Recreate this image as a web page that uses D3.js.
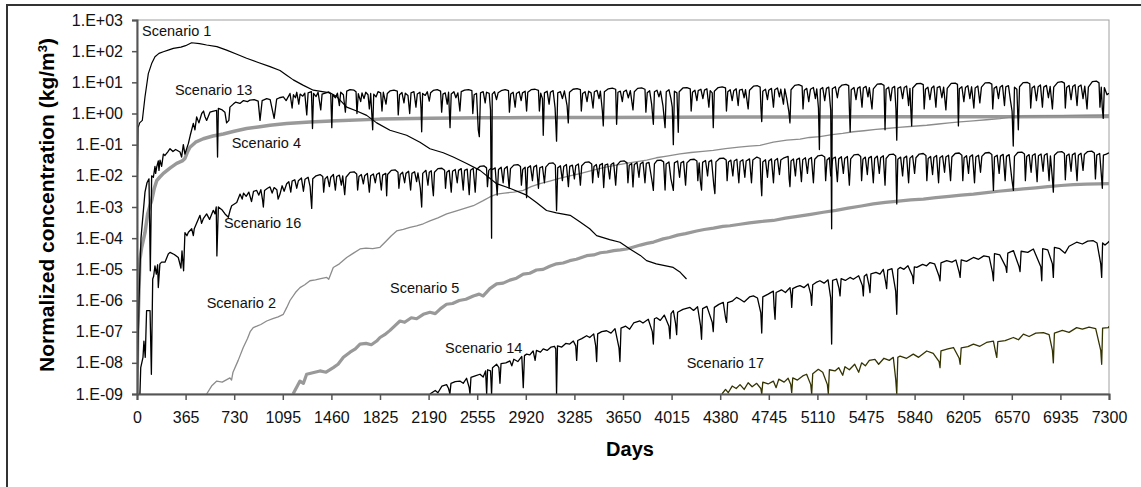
<!DOCTYPE html>
<html>
<head>
<meta charset="utf-8">
<script src="https://cdn.jsdelivr.net/npm/d3@7"></script>
<style>
  body { margin: 0; background: #fff; }
  svg { display: block; font-family: "Liberation Sans", Arial, sans-serif; }
  .tick text { fill: #111; }
</style>
</head>
<body>
<svg id="chart" width="1141" height="487"></svg>
<script>
// x ticks every year (days)
var xTicks = d3.range(0, 7301, 365);
// y ticks, one per decade
var yTicks = [1e-9, 1e-8, 1e-7, 1e-6, 1e-5, 1e-4, 1e-3, 1e-2, 1e-1, 1e0, 1e1, 1e2, 1e3];

// [day, concentration]
var scen1 = [[0,1.5e-4],[3,7e-3],[8,0.35],[20,0.5],[40,0.6],[60,3.4],[85,19],[110,40],[135,66],[165,85],
  [198,96],[240,110],[273,123],[330,135],[365,150],[410,186],[470,175],[523,158],[600,140],[673,108],
  [750,80],[823,59],[900,45],[999,32],[1074,24],[1124,17],[1174,12],[1250,8],[1324,5.6],[1449,4.6],
  [1500,3.5],[1575,1.6],[1650,1.2],[1725,0.87],[1800,0.5],[1900,0.29],[2025,0.2],[2125,0.12],[2200,0.074],
  [2300,0.055],[2375,0.04],[2476,0.025],[2576,0.015],[2701,0.0056],[2800,0.004],[2926,0.0024],[3000,0.0014],
  [3076,7.7e-4],[3150,6.5e-4],[3253,5.4e-4],[3328,3.3e-4],[3400,2e-4],[3452,1.2e-4],[3550,9e-5],[3627,7.4e-5],
  [3702,4.5e-5],[3780,2.8e-5],[3827,1.9e-5],[3900,1.5e-5],[4027,1.15e-5],[4080,8e-6],[4127,4.9e-6]];

var scen4 = [[0,1e-9],[5,1e-7],[10,3.6e-7],[22,2.1e-5],[35,5e-5],[60,1.5e-4],[80,6e-4],[100,1.2e-3],
  [110,1.6e-3],[130,4e-3],[148,7e-3],[170,9e-3],[198,0.012],[250,0.018],[298,0.025],[340,0.03],[360,0.036],
  [380,0.06],[398,0.083],[440,0.12],[498,0.155],[570,0.19],[648,0.22],[730,0.27],[823,0.33],[910,0.37],
  [999,0.42],[1124,0.48],[1300,0.53],[1500,0.58],[1825,0.66],[2200,0.7],[2600,0.73],[3000,0.74],[3500,0.75],
  [4000,0.76],[4500,0.77],[5000,0.77],[5500,0.78],[6000,0.78],[6500,0.79],[7000,0.8],[7300,0.8]];

var scen2 = [[523,1e-9],[560,1.8e-9],[599,2.6e-9],[640,2.4e-9],[698,3.3e-9],[710,2.8e-9],[721,5e-9],[760,1.2e-8],
  [798,3.1e-8],[830,6e-8],[850,1.0e-7],[873,1.35e-7],[900,1.5e-7],[930,1.7e-7],[974,2.2e-7],[1020,2.6e-7],
  [1060,3.0e-7],[1099,3.6e-7],[1125,6e-7],[1149,1e-6],[1190,1.8e-6],[1224,2.6e-6],[1260,3.2e-6],[1299,4.3e-6],
  [1340,4.6e-6],[1380,5e-6],[1425,5.5e-6],[1440,4.8e-6],[1474,1.15e-5],[1520,1.5e-5],[1575,2.4e-5],[1620,3.2e-5],
  [1675,4.5e-5],[1720,4.8e-5],[1770,4.6e-5],[1825,5.1e-5],[1870,8e-5],[1910,1.2e-4],[1950,1.7e-4],[2000,1.9e-4],
  [2050,2.2e-4],[2100,2.5e-4],[2150,2.9e-4],[2200,3.6e-4],[2260,4.5e-4],[2326,6e-4],[2400,7.5e-4],[2460,9e-4],
  [2526,1.1e-3],[2600,1.6e-3],[2650,2.1e-3],[2701,2.6e-3],[2760,2.8e-3],[2830,3.0e-3],[2901,3.4e-3],[2960,4.5e-3],
  [3027,5.6e-3],[3100,6.8e-3],[3180,8.5e-3],[3250,1.0e-2],[3327,1.17e-2],[3420,1.5e-2],[3520,1.9e-2],[3620,2.3e-2],
  [3720,2.7e-2],[3828,3.2e-2],[3900,3.8e-2],[3980,4.3e-2],[4078,5.1e-2],[4160,5.6e-2],[4250,6.1e-2],[4328,6.6e-2],
  [4420,7.5e-2],[4520,8.3e-2],[4600,9e-2],[4679,9.5e-2],[4779,0.12],[4880,0.14],[4980,0.15],[5050,0.17],
  [5129,0.18],[5220,0.21],[5300,0.23],[5380,0.26],[5460,0.28],[5550,0.31],[5630,0.33],[5720,0.36],[5830,0.39],
  [5931,0.42],[6020,0.46],[6100,0.5],[6181,0.54],[6280,0.58],[6380,0.63],[6481,0.69],[6560,0.76],[6654,0.82],
  [6750,0.84],[6850,0.85],[6950,0.86],[7050,0.87],[7150,0.88],[7300,0.9]];

var scen5 = [[1172,1e-9],[1224,2.6e-9],[1250,2.2e-9],[1274,4.3e-9],[1320,4.8e-9],[1374,5.5e-9],[1420,5e-9],
  [1474,7e-9],[1510,9e-9],[1550,1.5e-8],[1600,2.2e-8],[1640,2.8e-8],[1675,4e-8],[1720,4.2e-8],[1760,3.8e-8],
  [1800,5e-8],[1825,6.5e-8],[1860,8e-8],[1900,1.1e-7],[1940,1.6e-7],[1975,2.2e-7],[2010,2.0e-7],[2060,2.8e-7],
  [2100,2.6e-7],[2150,3.6e-7],[2200,4.2e-7],[2240,3.8e-7],[2280,5.5e-7],[2325,7.6e-7],[2370,8e-7],[2420,1.0e-6],
  [2470,1.1e-6],[2526,1.4e-6],[2570,1.6e-6],[2600,1.4e-6],[2650,2.4e-6],[2701,3.4e-6],[2750,3.6e-6],[2800,4.5e-6],
  [2850,5.2e-6],[2901,7e-6],[2950,7.5e-6],[3000,9.5e-6],[3050,1.0e-5],[3100,1.25e-5],[3151,1.5e-5],[3200,1.6e-5],
  [3250,1.9e-5],[3300,2.1e-5],[3377,2.75e-5],[3430,2.9e-5],[3480,3.4e-5],[3530,3.6e-5],[3580,4.0e-5],[3630,4.2e-5],
  [3677,4.5e-5],[3730,5.2e-5],[3780,6.0e-5],[3830,6.8e-5],[3880,7.5e-5],[3952,9.5e-5],[4000,1.05e-4],[4060,1.25e-4],
  [4120,1.4e-4],[4203,1.7e-4],[4260,1.9e-4],[4330,2.1e-4],[4400,2.4e-4],[4453,2.5e-4],[4530,2.8e-4],[4600,3.1e-4],
  [4680,3.4e-4],[4779,3.7e-4],[4870,4.4e-4],[4960,5.0e-4],[5060,5.8e-4],[5154,6.8e-4],[5250,7.8e-4],[5340,9.2e-4],
  [5440,1.08e-3],[5530,1.26e-3],[5620,1.4e-3],[5720,1.55e-3],[5810,1.7e-3],[5906,1.8e-3],[6000,2.0e-3],[6100,2.2e-3],
  [6190,2.4e-3],[6282,2.6e-3],[6380,2.9e-3],[6470,3.2e-3],[6560,3.5e-3],[6657,3.8e-3],[6750,4.1e-3],[6840,4.5e-3],
  [6940,4.9e-3],[7032,5.2e-3],[7130,5.4e-3],[7220,5.5e-3],[7300,5.6e-3]];

var scen13 = [[0,1e-9],[15,1e-6],[30,1e-4],[60,3e-3],[75,6e-3],[90,8e-3],[100,9e-6],[110,1e-2],[123,0.009],
  [135,0.02],[140,0.012],[148,0.019],[160,0.03],[165,0.015],[173,0.032],[185,0.02],[198,0.05],[210,0.045],
  [230,0.058],[248,0.074],[270,0.06],[290,0.07],[323,0.058],[335,0.04],[348,0.1],[360,0.05],[386,0.11],
  [400,0.2],[423,0.48],[435,0.3],[448,0.78],[465,0.5],[486,1.0],[500,1.2],[510,0.8],[523,0.6],[548,1.1],
  [575,1.2],[598,1.26],[605,0.04],[611,1.45],[640,1.3],[660,1.1],[673,0.5],[690,0.6],[698,1.6],[723,2.0],
  [740,2.3],[773,2.1],[800,2.6],[830,2.4],[849,2.7],[880,2.8],[910,2.5],[924,0.6],[940,2.6],[974,3.0],
  [1000,2.8],[1030,0.7],[1049,2.9],[1070,3.2],[1099,3.4],[1120,2.6],[1149,4.4],
  [1165,1.5],[1175,4.0],[1190,3.2],[1200,4.8],[1215,2.0],[1225,4.2],[1245,3.6],[1260,4.5],[1275,0.9],[1285,4.6],
  [1310,5.0],[1318,0.33],[1326,4.4],[1345,3.5],[1360,4.8],[1380,1.3],[1390,4.2],[1420,4.6],[1440,4.9],[1455,4.2],
  [1463,0.35],[1470,4.0],[1490,3.2],[1505,4.5],[1520,1.8],[1530,4.8],[1550,4.0],[1565,1.1],[1575,5.2],[1600,5.8],
  [1630,5.6],[1645,5.0],[1652,1.0],[1662,4.3],[1680,2.4],[1690,4.6],[1705,3.0],[1718,4.8],[1735,4.0],[1745,1.4],
  [1755,4.4],[1770,0.3],[1778,4.2],[1795,3.4],[1810,5.0],[1830,4.6],[1840,1.2],[1850,4.8],[1870,2.0],[1880,4.4],
  [1900,5.3],[1930,5.6],[1955,5.2],[1962,0.9],[1972,4.0],[1990,4.7],[2005,2.2],[2015,4.5],[2035,3.8],[2048,1.0],
  [2058,4.6],[2080,5.0],[2095,1.6],[2105,4.2],[2125,4.8],[2133,1.5],[2138,0.26],[2145,4.4],[2165,3.8],[2180,5.0],
  [2195,2.5],[2205,4.6],[2225,5.5],[2255,5.8],[2280,5.2],[2288,1.1],[2298,4.2],[2315,4.6],[2330,2.0],[2340,4.8],
  [2351,0.35],[2360,4.2],[2380,5.0],[2395,3.2],[2410,4.6],[2425,1.2],[2435,5.0],[2460,5.6],[2490,5.8],[2515,5.4],
  [2522,1.0],[2532,4.0],[2550,4.4],[2563,0.3],[2571,0.18],[2580,4.6],[2600,5.0],[2615,2.2],[2625,4.8],[2645,4.4],
  [2655,1.3],[2663,1e-4],[2668,4.2],[2685,5.0],[2700,2.8],[2712,4.6],[2735,5.4],[2765,5.8],[2790,5.4],[2797,1.1],
  [2807,4.2],[2825,4.8],[2840,1.6],[2850,4.4],[2870,5.0],[2885,2.6],[2895,4.6],[2915,5.2],[2926,1.2],[2935,4.8],
  [2960,5.8],[2990,6.0],[3015,5.5],[3022,1.2],[3032,4.5],[3045,3.0],[3051,0.2],[3060,4.6],[3080,5.2],[3095,2.0],
  [3105,4.8],[3125,5.4],[3140,1.5],[3151,0.13],[3160,4.6],[3180,5.0],[3195,3.0],[3210,5.3],[3230,1.8],[3239,0.5],
  [3248,4.8],[3275,6.0],[3305,6.3],[3330,5.8],[3337,1.2],[3347,4.4],[3365,5.0],[3380,2.4],[3392,5.2],[3410,4.6],
  [3425,1.5],[3435,5.0],[3455,5.5],[3470,3.0],[3480,5.2],[3495,1.2],[3502,0.4],[3510,5.0],[3540,6.2],[3570,6.5],
  [3595,6.0],[3602,0.45],[3612,4.8],[3630,5.2],[3645,2.4],[3655,5.0],[3675,5.6],[3690,3.2],[3705,5.4],[3725,1.3],
  [3735,5.0],[3760,6.4],[3790,6.6],[3815,6.0],[3822,1.1],[3832,4.6],[3850,5.4],[3865,2.0],[3878,0.45],[3886,5.0],
  [3905,5.6],[3920,3.4],[3932,5.2],[3950,1.8],[3966,0.35],[3975,5.0],[3995,5.8],[4010,3.0],[4020,1.6],[4028,0.1],
  [4036,5.2],[4055,4.6],[4065,0.25],[4072,5.0],[4100,6.6],[4130,6.8],[4155,6.2],[4162,1.2],[4172,4.8],[4190,5.6],
  [4205,2.6],[4215,5.4],[4235,6.0],[4250,3.0],[4262,5.6],[4280,6.2],[4295,1.6],[4305,5.4],[4320,4.6],[4328,0.35],
  [4336,5.2],[4365,6.8],[4395,7.2],[4420,6.6],[4427,1.2],[4437,5.0],[4455,5.8],[4470,2.6],[4482,5.4],[4500,6.2],
  [4515,1.8],[4525,5.6],[4545,6.0],[4560,3.2],[4570,5.8],[4590,1.4],[4600,5.6],[4630,7.5],[4660,7.8],[4680,7.0],
  [4686,1.4],[4692,0.55],[4700,5.2],[4720,6.0],[4735,2.8],[4745,5.6],[4765,6.4],[4780,1.6],[4790,5.8],[4810,6.6],
  [4825,3.4],[4835,6.0],[4855,2.0],[4865,6.2],[4880,3.0],[4895,1.2],[4904,0.5],[4912,5.8],[4940,8.0],[4970,8.4],
  [4995,7.6],[5002,1.4],[5012,5.6],[5030,6.4],[5045,2.4],[5058,6.0],[5080,6.8],[5095,3.0],[5105,6.2],[5118,1.5],
  [5125,0.07],[5132,6.0],[5150,6.8],[5165,2.6],[5178,6.4],[5195,7.0],[5210,1.3],[5217,2e-4],[5222,6.2],[5245,7.2],
  [5260,3.2],[5272,6.6],[5295,8.2],[5325,8.6],[5345,7.8],[5350,1.5],[5356,0.26],[5364,5.8],[5385,6.8],[5400,2.8],
  [5412,6.4],[5430,7.2],[5445,1.6],[5455,6.6],[5475,7.4],[5490,3.4],[5500,6.8],[5520,1.4],[5530,6.2],[5560,8.8],
  [5590,9.0],[5610,8.0],[5618,0.3],[5626,6.0],[5645,7.0],[5660,2.6],[5672,6.6],[5690,7.4],[5700,1.4],[5706,0.14],
  [5714,6.4],[5735,7.2],[5750,3.0],[5762,6.8],[5780,7.6],[5795,1.8],[5805,6.4],[5812,1.2],[5818,0.4],[5826,6.6],
  [5855,9.0],[5885,9.3],[5905,8.4],[5912,1.4],[5922,6.0],[5940,7.0],[5955,2.8],[5968,6.6],[5985,7.6],[6000,1.6],
  [6010,6.8],[6030,7.4],[6045,3.2],[6058,7.0],[6075,1.3],[6085,6.4],[6115,9.2],[6145,9.4],[6162,8.6],[6169,0.4],
  [6176,6.2],[6195,7.2],[6210,2.4],[6222,6.8],[6240,7.8],[6255,3.0],[6268,7.2],[6285,1.5],[6295,6.6],[6315,7.6],
  [6330,2.2],[6342,7.0],[6370,9.6],[6400,9.8],[6420,8.8],[6427,1.4],[6437,6.4],[6455,7.4],[6470,3.0],[6482,7.0],
  [6500,8.0],[6515,1.8],[6525,7.2],[6545,7.8],[6560,2.6],[6572,1.2],[6581,0.09],[6590,7.0],[6608,6.0],[6619,0.3],
  [6628,7.2],[6655,9.8],[6685,10],[6705,9.0],[6712,1.5],[6722,6.6],[6740,7.6],[6755,2.6],[6768,7.2],[6785,8.2],
  [6800,1.6],[6810,7.0],[6830,8.0],[6845,3.2],[6858,7.4],[6875,1.4],[6885,7.0],[6915,10],[6945,10.5],[6965,9.4],
  [6972,1.5],[6982,6.8],[7000,8.0],[7015,2.8],[7028,7.4],[7045,8.4],[7060,1.8],[7070,7.2],[7090,8.2],[7105,3.0],
  [7118,7.6],[7135,1.4],[7145,7.0],[7175,10.5],[7205,11],[7225,9.6],[7232,1.6],[7242,7.0],[7250,1.4],[7257,0.7],
  [7265,6.8],[7285,4.0],[7300,4.5]];

var scen16 = [[22,1e-9],[28,7e-9],[45,1.5e-8],[52,5e-8],[62,1.5e-8],[72,4.7e-7],[98,4.7e-7],[108,4.3e-9],
  [118,4.9e-6],[125,6e-6],[135,1.3e-5],[145,7e-6],[155,1.4e-5],[160,2.6e-6],[172,1.5e-5],[185,1.7e-5],[210,1.7e-5],
  [235,3.1e-5],[248,3.5e-5],[280,3e-5],[310,2.4e-5],[330,1.1e-5],[338,3.9e-5],[350,9e-6],[360,1.5e-4],[375,1.2e-4],
  [386,1.55e-4],[411,2e-4],[423,1.2e-4],[430,2e-4],[473,5.4e-4],[485,3e-4],[498,4.2e-4],[523,6e-4],[545,4e-4],
  [573,7.8e-4],[586,6e-4],[595,1.0e-3],[600,2.7e-5],[611,1e-3],[640,8e-4],[661,6e-4],[686,4.7e-4],[700,8e-4],
  [711,1.1e-3],[749,1.4e-3],
  [774,2.6e-3],[790,1.8e-3],[800,2.8e-3],[820,2.2e-3],[840,3.0e-3],[860,1.5e-3],[875,3.2e-3],[899,3.4e-3],
  [915,2.4e-3],[930,3.6e-3],[942,1.8e-3],[949,1.0e-3],[958,3.4e-3],[980,4.0e-3],[999,4.4e-3],[1015,2.8e-3],
  [1030,4.2e-3],[1050,3.6e-3],[1060,1.8e-3],[1074,2.6e-3],[1090,4.8e-3],[1105,3.2e-3],[1124,5.6e-3],[1140,6.5e-3],
  [1155,3.0e-3],[1165,6.8e-3],[1185,7.5e-3],[1200,4.0e-3],[1212,7.0e-3],[1235,8.5e-3],[1250,3.2e-3],[1262,7.8e-3],
  [1285,9.0e-3],[1300,4.5e-3],[1312,9e-4],[1320,8.0e-3],[1345,1.0e-2],[1375,1.1e-2],[1395,9.5e-3],[1402,3.0e-3],
  [1412,8.0e-3],[1430,9.5e-3],[1445,4.5e-3],[1455,9.0e-3],[1475,1.1e-2],[1490,3.5e-3],[1500,9.5e-3],[1520,1.05e-2],
  [1535,5.0e-3],[1545,1.0e-2],[1560,2.5e-3],[1570,9.0e-3],[1600,1.3e-2],[1630,1.35e-2],[1650,1.15e-2],[1657,3.5e-3],
  [1667,9.5e-3],[1685,1.1e-2],[1700,5.5e-3],[1710,1.0e-2],[1730,1.2e-2],[1745,3.0e-3],[1755,1.0e-2],[1775,1.15e-2],
  [1790,6.0e-3],[1800,1.1e-2],[1820,1.25e-2],[1835,3.5e-3],[1845,1.05e-2],[1868,1.2e-2],[1875,2.3e-3],[1882,1.1e-2],
  [1910,1.5e-2],[1940,1.55e-2],[1960,1.3e-2],[1967,4.0e-3],[1977,1.1e-2],[1995,1.3e-2],[2010,6.0e-3],[2020,1.2e-2],
  [2040,1.4e-2],[2055,3.5e-3],[2065,1.2e-2],[2085,1.35e-2],[2100,6.5e-3],[2110,1.25e-2],[2128,4.0e-3],[2138,1.0e-3],
  [2146,1.2e-2],[2170,1.5e-2],[2185,5.0e-3],[2195,1.3e-2],[2210,1.45e-2],[2220,4.0e-3],[2226,2.3e-3],[2234,1.3e-2],
  [2260,1.7e-2],[2290,1.75e-2],[2310,1.5e-2],[2317,4.0e-3],[2327,1.3e-2],[2345,1.5e-2],[2360,3.0e-3],[2370,1.4e-2],
  [2390,1.6e-2],[2405,6.0e-3],[2415,1.5e-2],[2435,1.7e-2],[2450,3.5e-3],[2460,1.5e-2],[2480,1.65e-2],[2495,2.5e-3],
  [2505,1.5e-2],[2525,1.75e-2],[2540,3.0e-3],[2550,1.6e-2],[2575,2.0e-2],[2605,2.1e-2],[2625,1.8e-2],[2632,4.5e-3],
  [2642,1.5e-2],[2655,1.7e-2],[2670,1.6e-2],[2690,1.8e-2],[2705,2.4e-3],[2715,1.6e-2],[2735,1.9e-2],[2750,6.0e-3],
  [2760,1.7e-2],[2780,2.0e-2],[2795,4.0e-3],[2805,1.7e-2],[2830,2.2e-2],[2860,2.3e-2],[2880,2.0e-2],[2887,5.0e-3],
  [2897,1.6e-2],[2915,1.9e-2],[2926,2.0e-3],[2934,1.8e-2],[2955,2.1e-2],[2970,7.0e-3],[2980,1.9e-2],[3000,2.2e-2],
  [3015,4.0e-3],[3025,1.8e-2],[3045,2.0e-2],[3060,6.0e-3],[3070,1.9e-2],[3095,2.5e-2],[3125,2.6e-2],[3142,2.2e-2],
  [3151,7.7e-4],[3160,1.8e-2],[3180,2.1e-2],[3195,7.0e-3],[3205,2.0e-2],[3225,2.3e-2],[3240,4.5e-3],[3250,2.0e-2],
  [3270,2.2e-2],[3285,8.0e-3],[3295,2.1e-2],[3315,2.4e-2],[3330,5.0e-3],[3340,2.1e-2],[3365,2.7e-2],[3395,2.8e-2],
  [3415,2.4e-2],[3422,6.0e-3],[3432,2.0e-2],[3450,2.3e-2],[3465,9.0e-3],[3475,2.2e-2],[3495,2.5e-2],[3505,4.2e-3],
  [3515,2.2e-2],[3535,2.4e-2],[3550,8.0e-3],[3560,2.3e-2],[3580,2.6e-2],[3595,5.0e-3],[3605,2.2e-2],[3630,2.9e-2],
  [3660,3.0e-2],[3680,2.6e-2],[3687,6.0e-3],[3697,2.2e-2],[3715,2.5e-2],[3725,4.4e-3],[3735,2.3e-2],[3755,2.7e-2],
  [3770,9.0e-3],[3780,2.4e-2],[3800,2.8e-2],[3815,6.0e-3],[3825,2.5e-2],[3845,2.7e-2],[3870,6e-3],[3878,3.4e-3],
  [3886,2.4e-2],[3905,3.1e-2],[3935,3.2e-2],[3955,2.8e-2],[3966,3.5e-3],[3974,2.4e-2],[3995,2.8e-2],[4010,8.0e-3],
  [4020,5e-3],[4028,3.4e-3],[4036,2.6e-2],[4060,3.0e-2],[4075,9.0e-3],[4085,2.6e-2],[4105,2.9e-2],[4120,5.0e-3],
  [4130,2.6e-2],[4155,3.3e-2],[4185,3.4e-2],[4205,3.0e-2],[4212,7.0e-3],[4222,2.6e-2],[4232,6e-3],[4240,3.5e-3],
  [4248,2.7e-2],[4270,3.1e-2],[4285,1.0e-2],[4295,2.8e-2],[4315,3.2e-2],[4332,5e-3],[4340,2.7e-3],[4348,2.8e-2],
  [4375,3.6e-2],[4405,3.7e-2],[4425,3.2e-2],[4432,7.0e-3],[4442,2.8e-2],[4460,3.2e-2],[4475,1.0e-2],[4485,3.0e-2],
  [4505,3.4e-2],[4520,6.0e-3],[4530,2.9e-2],[4550,3.3e-2],[4565,9.0e-3],[4575,3.0e-2],[4600,3.5e-2],[4615,6e-3],
  [4625,3.2e-2],[4655,4.0e-2],[4680,3.6e-2],[4686,6e-3],[4692,2.3e-3],[4700,2.8e-2],[4720,3.3e-2],[4735,9.0e-3],
  [4745,3.0e-2],[4765,3.5e-2],[4780,6.0e-3],[4790,3.1e-2],[4810,3.6e-2],[4825,1.1e-2],[4835,3.2e-2],[4860,3.8e-2],
  [4890,4.2e-2],[4898,8e-3],[4904,4.5e-3],[4912,3.0e-2],[4930,3.5e-2],[4945,1.0e-2],[4955,3.3e-2],[4975,3.7e-2],
  [4990,6.5e-3],[5000,3.3e-2],[5020,3.8e-2],[5035,1.2e-2],[5045,3.4e-2],[5065,3.9e-2],[5080,6.0e-3],[5090,3.4e-2],
  [5115,4.4e-2],[5145,4.6e-2],[5165,4.0e-2],[5172,7.0e-3],[5182,3.2e-2],[5200,3.8e-2],[5210,1e-2],[5225,3.6e-2],
  [5245,4.0e-2],[5260,6.5e-3],[5270,3.5e-2],[5290,4.1e-2],[5305,1.2e-2],[5315,3.6e-2],[5335,4.2e-2],[5350,5.0e-3],
  [5360,3.5e-2],[5385,4.7e-2],[5415,4.9e-2],[5435,4.2e-2],[5442,7.0e-3],[5452,3.4e-2],[5470,4.0e-2],[5485,1.1e-2],
  [5495,3.7e-2],[5515,4.2e-2],[5530,6.0e-3],[5540,3.6e-2],[5560,4.3e-2],[5575,1.2e-2],[5585,3.8e-2],[5605,4.4e-2],
  [5618,5e-3],[5626,3.6e-2],[5650,4.8e-2],[5680,5.0e-2],[5698,4.3e-2],[5706,1.26e-3],[5714,3.4e-2],[5735,4.0e-2],
  [5750,1.0e-2],[5760,3.7e-2],[5780,4.3e-2],[5795,6.0e-3],[5805,3.7e-2],[5825,4.4e-2],[5840,1.2e-2],[5850,3.8e-2],
  [5875,5.0e-2],[5905,5.2e-2],[5925,4.5e-2],[5932,7.0e-3],[5942,3.6e-2],[5960,4.2e-2],[5975,1.1e-2],[5985,3.9e-2],
  [6005,4.5e-2],[6020,6.0e-3],[6030,3.8e-2],[6050,4.4e-2],[6065,1.3e-2],[6075,4.0e-2],[6095,4.6e-2],[6110,7.0e-3],
  [6120,4.0e-2],[6145,5.2e-2],[6175,5.4e-2],[6195,4.6e-2],[6202,7.0e-3],[6212,3.8e-2],[6230,4.4e-2],[6245,1.2e-2],
  [6255,4.1e-2],[6275,4.7e-2],[6290,6.0e-3],[6300,4.0e-2],[6320,4.6e-2],[6335,1.3e-2],[6345,4.2e-2],[6370,5.4e-2],
  [6400,5.6e-2],[6420,4.8e-2],[6432,3.4e-3],[6440,4.0e-2],[6460,4.6e-2],[6475,1.2e-2],[6485,4.3e-2],[6505,4.9e-2],
  [6520,7e-3],[6530,4.2e-2],[6550,4.8e-2],[6570,8e-3],[6582,3.4e-3],[6590,4.2e-2],[6615,5.6e-2],[6645,5.8e-2],
  [6665,5.0e-2],[6672,7.0e-3],[6682,4.2e-2],[6700,4.8e-2],[6715,1.3e-2],[6725,4.5e-2],[6745,5.1e-2],[6760,6.5e-3],
  [6770,4.4e-2],[6790,5.0e-2],[6805,1.4e-2],[6815,4.6e-2],[6835,5.2e-2],[6850,7.0e-3],[6860,4.4e-2],[6875,8e-3],
  [6882,3.0e-3],[6890,4.6e-2],[6915,5.8e-2],[6945,6.0e-2],[6965,5.2e-2],[6972,7.5e-3],[6982,4.4e-2],[7000,5.0e-2],
  [7015,1.4e-2],[7025,4.7e-2],[7045,5.4e-2],[7060,7.0e-3],[7070,4.6e-2],[7090,5.3e-2],[7105,1.5e-2],[7115,4.8e-2],
  [7140,6.0e-2],[7170,6.2e-2],[7190,5.4e-2],[7198,8.0e-3],[7208,4.6e-2],[7230,5.2e-2],[7243,1e-2],[7250,4.0e-3],
  [7258,4.6e-2],[7280,5.0e-2],[7300,5.5e-2]];

var scen14 = [[2200,1e-9],[2240,1.3e-9],[2260,1.1e-9],[2290,1.8e-9],[2325,2e-9],[2340,1.5e-9],[2350,1e-9],
  [2358,2.2e-9],[2390,2.5e-9],[2425,2.6e-9],[2450,2.2e-9],[2475,3.2e-9],[2495,1.6e-9],[2501,1e-9],[2508,3.4e-9],
  [2540,3.8e-9],[2576,4.3e-9],[2600,3.5e-9],[2618,5.5e-9],[2626,1e-9],[2633,6e-9],[2655,5.5e-9],[2663,1e-9],
  [2670,7e-9],[2701,9e-9],[2718,7e-9],[2726,2.2e-9],[2734,9.5e-9],[2770,1.0e-8],[2801,1.15e-8],[2815,8e-9],
  [2830,1.3e-8],[2860,1.1e-8],[2890,1.6e-8],[2901,1.6e-9],[2910,1.7e-8],[2926,1.9e-8],[2950,1.8e-8],[2975,2.4e-8],
  [2990,1.2e-8],[3000,2.5e-8],[3030,2.2e-8],[3051,2.8e-8],[3080,2.5e-8],[3110,3.2e-8],[3135,3.4e-8],[3145,2.8e-8],
  [3151,1e-9],[3158,3.5e-8],[3190,3.2e-8],[3220,4.2e-8],[3250,4.0e-8],[3277,5e-8],[3295,3.5e-8],[3302,1.2e-8],
  [3310,5.2e-8],[3340,6e-8],[3377,7.4e-8],[3400,6.5e-8],[3430,8.5e-8],[3445,3.5e-8],[3452,1.1e-8],[3460,8.5e-8],
  [3490,1.0e-7],[3527,1.07e-7],[3560,9e-8],[3590,1.25e-7],[3620,3e-8],[3627,1.1e-8],[3635,1.3e-7],[3670,1.5e-7],
  [3700,1.2e-7],[3730,1.9e-7],[3777,2.2e-7],[3800,1.9e-7],[3840,2.5e-7],[3870,1.0e-7],[3878,4e-8],[3886,2.6e-7],
  [3902,2.8e-7],[3930,2.3e-7],[3960,3.4e-7],[3995,1.5e-7],[4003,6e-8],[4011,3.8e-7],[4028,4.7e-7],[4045,1.8e-7],
  [4053,8e-8],[4060,4.2e-7],[4100,5.2e-7],[4153,6e-7],[4180,4.8e-7],[4210,6.3e-7],[4232,1.6e-7],[4240,5.7e-8],
  [4248,5.5e-7],[4280,6.5e-7],[4320,2e-7],[4328,1e-7],[4336,6e-7],[4370,7.5e-7],[4403,8.7e-7],[4420,2.8e-7],
  [4428,2e-7],[4436,8.5e-7],[4470,9.5e-7],[4503,1.26e-6],[4529,1.1e-6],[4560,9e-7],[4600,1.3e-6],[4629,1.4e-6],
  [4660,1.2e-6],[4685,4e-7],[4692,9e-8],[4700,1.3e-6],[4740,1.6e-6],[4779,2e-6],[4785,6e-7],[4792,2.5e-7],
  [4800,1.8e-6],[4840,2.2e-6],[4870,1.8e-6],[4904,2.6e-6],[4912,1.5e-6],[4917,6e-7],[4925,2.4e-6],[4955,2.8e-6],
  [4979,3e-6],[5010,2.6e-6],[5040,3.4e-6],[5060,1.6e-6],[5067,7e-7],[5075,3.2e-6],[5100,3.8e-6],[5129,4.3e-6],
  [5160,3.6e-6],[5190,4.6e-6],[5210,1.2e-6],[5217,4e-8],[5224,4.4e-6],[5254,4.9e-6],[5272,2.5e-6],[5280,1.4e-6],
  [5288,5e-6],[5320,4.4e-6],[5355,5.5e-6],[5380,4.8e-6],[5420,6.2e-6],[5448,3e-6],[5455,1.4e-6],[5462,6e-6],
  [5480,7e-6],[5498,3e-6],[5505,1.8e-6],[5512,7.2e-6],[5550,8e-6],[5580,7e-6],[5605,1e-5],[5622,4e-6],[5630,2.4e-6],
  [5638,9.5e-6],[5670,1.05e-5],[5698,2e-6],[5706,3.6e-7],[5714,1e-5],[5731,1.15e-5],[5760,1.0e-5],[5790,1.3e-5],
  [5825,6e-6],[5831,3.5e-6],[5838,1.2e-5],[5856,1.15e-5],[5900,1.45e-5],[5930,1.3e-5],[5956,1.65e-5],[5990,1.5e-5],
  [6024,6e-6],[6031,4.3e-6],[6038,1.6e-5],[6081,1.9e-5],[6120,1.7e-5],[6150,2.0e-5],[6175,8e-6],[6182,5.5e-6],
  [6190,2e-5],[6230,1.8e-5],[6282,2.4e-5],[6320,2.1e-5],[6360,2.7e-5],[6400,2.5e-5],[6425,8e-6],[6432,4.3e-6],
  [6440,3.2e-5],[6480,2.9e-5],[6525,1.2e-5],[6532,8e-6],[6540,3.3e-5],[6582,4e-5],[6625,1.2e-5],[6632,8.5e-6],
  [6640,3.8e-5],[6690,3.5e-5],[6732,4.5e-5],[6788,1.2e-5],[6795,4.3e-6],[6802,4.6e-5],[6840,4.2e-5],[6875,1.5e-5],
  [6882,5.5e-6],[6890,5.1e-5],[6930,4.6e-5],[6970,3.3e-5],[7000,5.5e-5],[7057,7.4e-5],[7100,6.5e-5],[7140,8e-5],
  [7182,8.3e-5],[7210,7e-5],[7238,1.5e-5],[7245,5.5e-6],[7252,7e-5],[7270,6e-5],[7295,7.4e-5],[7300,8e-5]];

var scen17 = [[4393,1e-9],[4420,1.4e-9],[4440,1.1e-9],[4470,1.8e-9],[4500,1.5e-9],[4529,2e-9],[4560,1.4e-9],
  [4590,2.3e-9],[4620,1.7e-9],[4654,2.2e-9],[4685,1.5e-9],[4692,1e-9],[4700,2.4e-9],[4740,2.1e-9],[4779,2.6e-9],
  [4800,1.6e-9],[4820,3e-9],[4860,2.4e-9],[4890,3.2e-9],[4910,2e-9],[4917,1.1e-9],[4925,3.3e-9],[4960,2.8e-9],
  [5000,3.8e-9],[5029,4.3e-9],[5060,2e-9],[5067,1e-9],[5075,4.5e-9],[5117,6.2e-9],[5150,5e-9],[5185,2e-9],
  [5192,1e-9],[5200,6e-9],[5242,5.5e-9],[5270,7e-9],[5300,4e-9],[5317,7.5e-9],[5350,6e-9],[5390,9e-9],[5420,5e-9],
  [5442,1e-8],[5470,8e-9],[5500,1.2e-8],[5542,1.3e-8],[5570,9e-9],[5610,1.4e-8],[5650,1.2e-8],[5680,1.5e-8],
  [5698,3e-9],[5706,1e-9],[5714,1.5e-8],[5731,1.65e-8],[5780,1.4e-8],[5830,1.9e-8],[5870,1.5e-8],[5931,2.4e-8],
  [5980,2.0e-8],[6024,1.1e-8],[6031,7e-9],[6038,2.4e-8],[6090,2.8e-8],[6132,3.1e-8],[6175,1.4e-8],[6182,9e-9],
  [6190,3e-8],[6240,3.3e-8],[6282,4e-8],[6330,3.4e-8],[6380,4.5e-8],[6432,5e-8],[6450,2e-8],[6457,1.5e-8],
  [6465,4.8e-8],[6520,5.2e-8],[6582,6.5e-8],[6620,5.5e-8],[6657,8.3e-8],[6700,7e-8],[6750,9e-8],[6807,9.3e-8],
  [6850,8e-8],[6875,2.5e-8],[6882,1e-8],[6890,9e-8],[6950,1.1e-7],[7000,9.5e-8],[7057,1.35e-7],[7100,1.2e-7],
  [7150,1.4e-7],[7200,1.25e-7],[7238,2.5e-8],[7245,9e-9],[7252,1.3e-7],[7295,1.35e-7],[7300,1.5e-7]];

// series labels: text and anchor [day, value]
var labelNames = ["Scenario 1", "Scenario 13", "Scenario 4", "Scenario 16", "Scenario 2", "Scenario 5", "Scenario 14", "Scenario 17"];
var labelAt = [[38,307],[285,3.9],[711,0.078],[653,2.1e-4],[523,5.8e-7],[1900,1.75e-6],[2313,2.07e-8],[4128,6.8e-9]];

var svg = d3.select("#chart");

// outer frame of the chart
svg.append("rect")
  .attr("x", 7).attr("y", 5)
  .attr("width", 1160).attr("height", 500)
  .attr("fill", "none")
  .attr("stroke", "#333")
  .attr("stroke-width", 2);

var x = d3.scaleLinear().domain([0, 7300]).range([137, 1109]);
var y = d3.scaleLog().domain([1e-9, 1e3]).range([394, 20]);

// plot frame (top / right are light)
svg.append("rect")
  .attr("x", 137).attr("y", 20)
  .attr("width", 1109 - 137).attr("height", 394 - 20)
  .attr("fill", "none")
  .attr("stroke", "#a0a0a0")
  .attr("stroke-width", 1);

svg.append("clipPath").attr("id", "plotclip")
  .append("rect")
  .attr("x", 137).attr("y", 20)
  .attr("width", 1109 - 137).attr("height", 394 - 20);

function fmtExp(d) {
  var e = Math.round(Math.log10(d));
  return "1.E" + (e < 0 ? "-" : "+") + String(Math.abs(e)).padStart(2, "0");
}

var line = d3.line()
  .x(function(d) { return x(d[0]); })
  .y(function(d) { return y(Math.max(d[1], 1e-10)); });

var plot = svg.append("g").attr("clip-path", "url(#plotclip)");

// grey series first, black ones over them
var series = [
  {data: scen4, color: "#999999", width: 3.5},
  {data: scen5, color: "#999999", width: 3.2},
  {data: scen2, color: "#8c8c8c", width: 1.3},
  {data: scen1, color: "#000000", width: 1.2},
  {data: scen16, color: "#000000", width: 1.3},
  {data: scen13, color: "#000000", width: 1.3},
  {data: scen14, color: "#000000", width: 1.3},
  {data: scen17, color: "#333300", width: 1.3}
];

plot.selectAll("path.series")
  .data(series)
  .enter().append("path")
  .attr("class", "series")
  .attr("d", function(d) { return line(d.data); })
  .attr("fill", "none")
  .attr("stroke", function(d) { return d.color; })
  .attr("stroke-width", function(d) { return d.width; })
  .attr("stroke-linejoin", "round");

// axes
var xAxis = svg.append("g")
  .attr("transform", "translate(0,394)")
  .call(d3.axisBottom(x).tickValues(xTicks).tickSize(6).tickPadding(12).tickFormat(d3.format("d")));
var yAxis = svg.append("g")
  .attr("transform", "translate(137,0)")
  .call(d3.axisLeft(y).tickValues(yTicks).tickSize(5).tickPadding(9).tickFormat(fmtExp));

[xAxis, yAxis].forEach(function(g) {
  g.select(".domain").attr("stroke", "#555").attr("stroke-width", 2);
  g.selectAll(".tick line").attr("stroke", "#555").attr("stroke-width", 1.5);
  g.selectAll(".tick text").style("font-size", "16px").style("font-family", "'Liberation Sans', Arial, sans-serif");
});

// series labels
svg.selectAll("text.lab")
  .data(labelNames)
  .enter().append("text")
  .attr("class", "lab")
  .attr("x", function(d, i) { return x(labelAt[i][0]); })
  .attr("y", function(d, i) { return y(labelAt[i][1]); })
  .style("font-size", "14.5px")
  .attr("fill", "#111")
  .text(function(d) { return d; });

// axis titles
svg.append("text")
  .attr("x", 630).attr("y", 456)
  .attr("text-anchor", "middle")
  .style("font-size", "20px").style("font-weight", "bold")
  .text("Days");

var yt = svg.append("text")
  .attr("transform", "translate(54,205) rotate(-90)")
  .attr("text-anchor", "middle")
  .style("font-size", "21px").style("font-weight", "bold");
yt.append("tspan").text("Normalized concentration (kg/m");
yt.append("tspan").attr("baseline-shift", "super").style("font-size", "13px").text("3");
yt.append("tspan").text(")");
</script>
</body>
</html>
